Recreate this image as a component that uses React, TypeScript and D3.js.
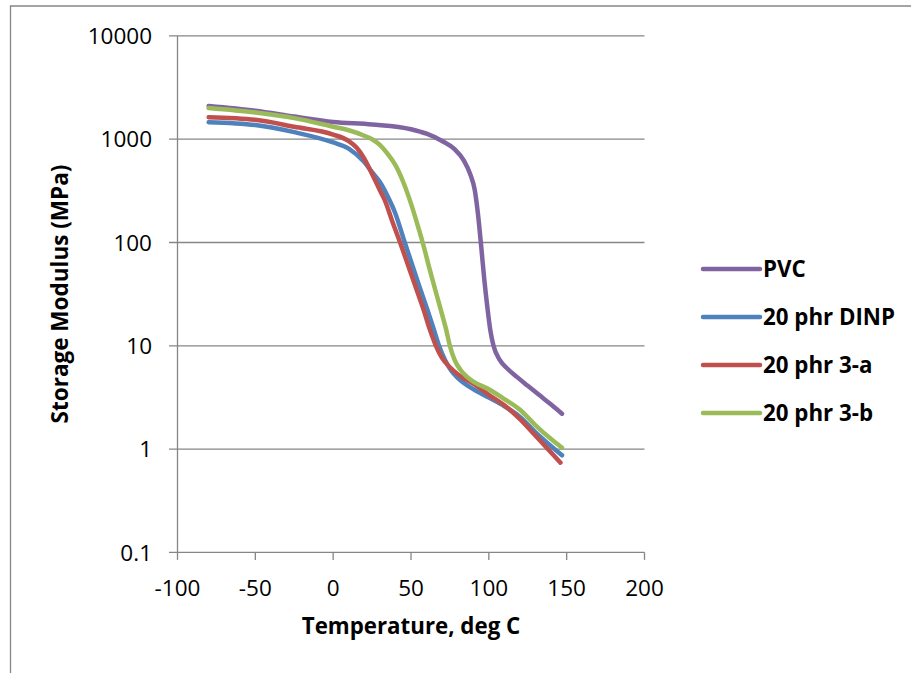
import React, { useEffect, useRef } from "react";
import * as d3 from "d3";

const W = 911;
const H = 673;

const seriesNames = ["PVC", "20 phr DINP", "20 phr 3-a", "20 phr 3-b"];
const seriesColors = ["#8064A2", "#4F81BD", "#C0504D", "#9BBB59"];

const pvcT = [-80, -50, -25, 0, 25, 50, 60, 70, 78, 84, 88, 91, 93, 95, 97, 99, 101, 103, 107, 112, 118, 125, 132, 140, 147];
const pvcE = [2100, 1890, 1660, 1470, 1390, 1250, 1130, 960, 800, 620, 460, 320, 190, 95, 45, 24, 14, 10, 7.3, 6.0, 5.0, 4.1, 3.37, 2.7, 2.2];

const dinpT = [-80, -50, -25, 0, 10, 20, 25, 30, 35, 40, 46, 50, 55, 60, 64, 68, 72, 76, 80, 90, 100, 110, 120, 130, 147];
const dinpE = [1460, 1370, 1170, 930, 810, 600, 480, 385, 280, 190, 100, 66, 39, 23.5, 15.5, 10, 7.2, 5.7, 4.9, 3.8, 3.15, 2.6, 2.05, 1.45, 0.87];

const a3T = [-80, -50, -25, 0, 10, 15, 20, 25, 30, 33, 38, 43, 48, 53, 58, 62, 66, 70, 75, 80, 90, 100, 110, 120, 130, 146];
const a3E = [1630, 1540, 1320, 1110, 960, 830, 650, 460, 320, 260, 160, 100, 61, 37, 22.5, 14.5, 10, 7.6, 6.2, 5.3, 4.3, 3.35, 2.65, 1.95, 1.35, 0.74];

const b3T = [-80, -50, -25, 0, 10, 20, 25, 30, 35, 40, 45, 50, 55, 57.5, 62, 66, 70, 72.5, 75, 78, 82, 86, 90, 100, 110, 120, 130, 140, 147];
const b3E = [2000, 1810, 1600, 1320, 1220, 1080, 1000, 880, 720, 560, 385, 238, 135, 100, 55, 33, 20, 14.5, 10, 7.3, 5.8, 5.0, 4.5, 3.8, 3.05, 2.4, 1.7, 1.25, 1.03];

const seriesT = [pvcT, dinpT, a3T, b3T];
const seriesE = [pvcE, dinpE, a3E, b3E];

const xTicks = [-100, -50, 0, 50, 100, 150, 200];
const yTicks = [0.1, 1, 10, 100, 1000, 10000];
const yTickLabels = ["0.1", "1", "10", "100", "1000", "10000"];

const FONT = "'Open Sans', Lato, sans-serif";

export default function App() {
  const ref = useRef<SVGSVGElement>(null);

  useEffect(() => {
    const svg = d3.select(ref.current);
    svg.selectAll("*").remove();

    const x = d3.scaleLinear().domain([-100, 200]).range([177.5, 644.5]);
    const y = d3.scaleLog().domain([0.1, 10000]).range([552.4, 35.9]);

    // outer frame (only top and left visible)
    svg.append("path")
      .attr("d", `M10.5,${H} L10.5,6 L${W},6`)
      .attr("fill", "none")
      .attr("stroke", "#868686")
      .attr("stroke-width", 1.3);

    const grid = "#868686";

    yTicks.forEach((t, i) => {
      svg.append("line")
        .attr("x1", 169).attr("x2", x(200))
        .attr("y1", y(t)).attr("y2", y(t))
        .attr("stroke", grid).attr("stroke-width", 1.3);
      svg.append("text")
        .attr("x", 152).attr("y", y(t))
        .attr("dy", "0.36em")
        .attr("text-anchor", "end")
        .attr("font-family", FONT)
        .attr("font-size", 22.5)
        .attr("fill", "#000")
        .text(yTickLabels[i]);
    });

    svg.append("line")
      .attr("x1", x(-100)).attr("x2", x(-100))
      .attr("y1", y(10000)).attr("y2", y(0.1))
      .attr("stroke", grid).attr("stroke-width", 1.3);

    xTicks.forEach((t) => {
      svg.append("line")
        .attr("x1", x(t)).attr("x2", x(t))
        .attr("y1", y(0.1)).attr("y2", y(0.1) + 7.5)
        .attr("stroke", grid).attr("stroke-width", 1.3);
      svg.append("text")
        .attr("x", x(t)).attr("y", 596)
        .attr("text-anchor", "middle")
        .attr("font-family", FONT)
        .attr("font-size", 22.5)
        .attr("fill", "#000")
        .text(String(t));
    });

    svg.append("text")
      .attr("x", 411).attr("y", 634)
      .attr("text-anchor", "middle")
      .attr("font-family", FONT)
      .attr("font-weight", "bold")
      .attr("font-size", 22.3)
      .attr("fill", "#000")
      .text("Temperature, deg C");

    svg.append("text")
      .attr("transform", `translate(68,294) rotate(-90)`)
      .attr("text-anchor", "middle")
      .attr("font-family", FONT)
      .attr("font-weight", "bold")
      .attr("font-size", 22.5)
      .attr("fill", "#000")
      .text("Storage Modulus (MPa)");

    const line = d3.line<[number, number]>()
      .x((d) => x(d[0]))
      .y((d) => y(d[1]))
      .curve(d3.curveMonotoneX);

    seriesT.forEach((ts, i) => {
      const pts: [number, number][] = ts.map((t, j) => [t, seriesE[i][j]]);
      svg.append("path")
        .attr("d", line(pts) as string)
        .attr("fill", "none")
        .attr("stroke", seriesColors[i])
        .attr("stroke-width", 4.5)
        .attr("stroke-linecap", "round")
        .attr("stroke-linejoin", "round");
    });

    const legY = [269, 317, 365, 413];
    seriesNames.forEach((name, i) => {
      svg.append("line")
        .attr("x1", 703).attr("x2", 760)
        .attr("y1", legY[i]).attr("y2", legY[i])
        .attr("stroke", seriesColors[i])
        .attr("stroke-width", 4.5)
        .attr("stroke-linecap", "round");
      svg.append("text")
        .attr("x", 763).attr("y", legY[i])
        .attr("dy", "0.36em")
        .attr("font-family", FONT)
        .attr("font-weight", "bold")
        .attr("font-size", 22.3)
        .attr("fill", "#000")
        .text(name);
    });
  }, []);

  return (
    <svg
      ref={ref}
      width={W}
      height={H}
      style={{ position: "absolute", left: 0, top: 0, background: "#fff" }}
    />
  );
}
